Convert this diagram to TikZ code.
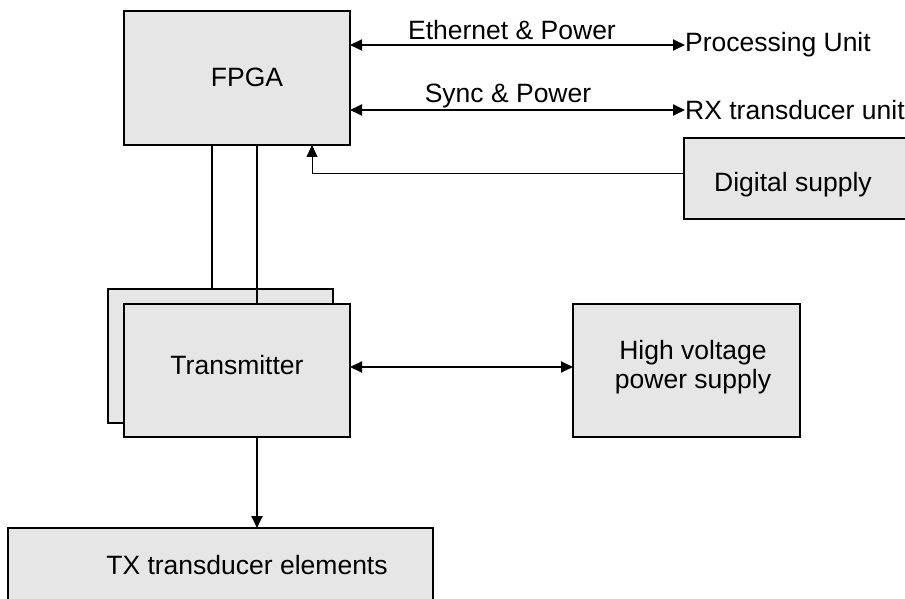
\documentclass[tikz,border=0pt]{standalone}
\usepackage{fontspec}
\setmainfont{Liberation Sans}
\usetikzlibrary{arrows.meta}
\definecolor{boxgray}{HTML}{E6E6E6}
\tikzset{
  blk/.style={draw=black, fill=boxgray, line width=2pt},
  lbl/.style={font=\fontsize{26.5}{30}\selectfont, inner sep=0pt},
  conn/.style={line width=1.8pt, -{Triangle[length=12pt,width=11pt]}},
  biconn/.style={line width=1.8pt, {Triangle[length=12pt,width=11pt]}-{Triangle[length=12pt,width=11pt]}},
  thinconn/.style={line width=0.9pt, -{Triangle[length=12pt,width=11pt]}},
}
\begin{document}
\begin{tikzpicture}[x=1pt,y=-1pt]
\clip (0,0) rectangle (905,599);
\useasboundingbox (0,0) rectangle (905,599);
% FPGA
\draw[blk] (124,11) rectangle (350,145);
\node[lbl] (fpga) at (247,77) {FPGA};
\coordinate (fpgaE1) at (350,45);
\coordinate (fpgaE2) at (350,110);
\coordinate (fpgaS) at (312,145);
% external labels
\node[lbl, anchor=west] (pu) at (685,45) {Processing Unit};
\node[lbl, anchor=west] (rx) at (685,110) {RX transducer unit};
\draw[biconn] (fpgaE1) -- (pu.west);
\draw[biconn] (fpgaE2) -- (rx.west);
\node[lbl] (eth) at (512,30) {Ethernet \& Power};
\node[lbl] (sync) at (508,96) {Sync \& Power};
% Digital supply
\draw[blk] (684,138) rectangle (915,219);
\node[lbl] (ds) at (793,185) {Digital supply};
\coordinate (dsW) at (684,173);
\draw[thinconn] (dsW) -- (312,173) -- (fpgaS);
% Transmitter stack
\draw[blk] (108,289) rectangle (333,423);
\draw[line width=1.8pt] (212,145) -- (212,289);
\draw[blk] (124,304) rectangle (350,437);
\draw[line width=1.8pt] (257,145) -- (257,304);
\node[lbl] (tx) at (237,365) {Transmitter};
% HV supply
\draw[blk] (573,304) rectangle (800,437);
\node[lbl, align=center] (hv) at (693,367) {High voltage\\[-1pt]power supply};
\coordinate (txE) at (350,367);
\coordinate (hvW) at (573,367);
\draw[biconn] (txE) -- (hvW);
% TX transducer elements
\draw[blk] (8,528) rectangle (433,620);
\node[lbl] (txe) at (247,565) {TX transducer elements};
\coordinate (txS) at (257,437);
\coordinate (txeN) at (257,528);
\draw[conn] (txS) -- (txeN);
\end{tikzpicture}
\end{document}
